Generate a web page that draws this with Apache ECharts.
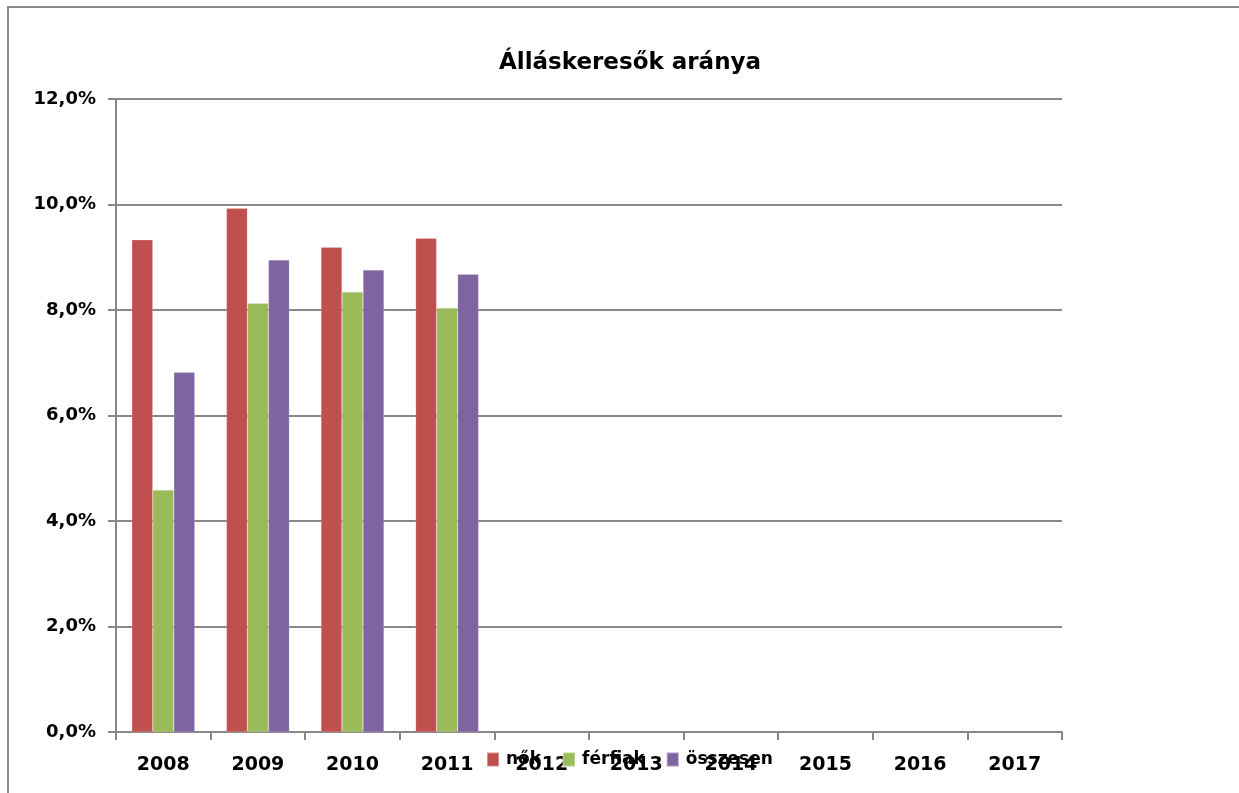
<!DOCTYPE html>
<html>
<head>
<meta charset="utf-8">
<script src="https://cdn.jsdelivr.net/npm/echarts@6/dist/echarts.min.js"></script>
<style>
  html, body { margin: 0; padding: 0; background: #fff; overflow: hidden; }
  #chart { width: 1239px; height: 793px; }
</style>
</head>
<body>
<div id="chart"></div>
<script>
// Years on the x axis (only the first four have data)
var years = ['2008', '2009', '2010', '2011', '2012', '2013', '2014', '2015', '2016', '2017'];

// Share of job seekers, in percent
var nok = [9.33, 9.93, 9.19, 9.36];
var ferfiak = [4.59, 8.13, 8.34, 8.04];
var osszesen = [6.82, 8.95, 8.76, 8.68];

var seriesNames = ['nők', 'férfiak', 'összesen'];
var colors = ['#C0504D', '#9BBB59', '#8064A2'];

var font = '"DejaVu Sans", Verdana, sans-serif';

var chart = echarts.init(document.getElementById('chart'));

function bar(name, data) {
  return {
    name: name,
    type: 'bar',
    data: data,
    barWidth: 21,
    barGap: '0%',
    itemStyle: { borderColor: 'rgba(255,255,255,0.35)', borderWidth: 0.5 }
  };
}

chart.setOption({
  animation: false,
  color: colors,
  title: {
    text: 'Álláskeresők aránya',
    left: 625,
    textAlign: 'center',
    top: 47,
    textStyle: { fontFamily: font, fontWeight: 'bold', fontSize: 23, color: '#000' }
  },
  // outer chart frame, only the top and left edges show in the picture
  graphic: [{
    type: 'polyline',
    shape: { points: [[8, 1000], [8, 7], [1500, 7]] },
    style: { fill: 'none', stroke: '#8c8c8c', lineWidth: 2 },
    silent: true
  }],
  legend: {
    data: seriesNames,
    left: 486,
    top: 751,
    padding: 0,
    itemWidth: 12,
    itemHeight: 14,
    itemGap: 21,
    icon: 'rect',
    textStyle: { fontFamily: font, fontWeight: 'bold', fontSize: 17, color: '#000', padding: [0, 0, 0, 2] }
  },
  grid: { left: 116, right: 177, top: 99, bottom: 61 },
  xAxis: {
    type: 'category',
    data: years,
    axisLine: { lineStyle: { color: '#888', width: 2 } },
    axisTick: { show: true, length: 8, lineStyle: { color: '#888', width: 2 } },
    axisLabel: { margin: 24, fontFamily: font, fontWeight: 'bold', fontSize: 19, color: '#000' }
  },
  yAxis: {
    type: 'value',
    min: 0,
    max: 12,
    interval: 2,
    axisLine: { show: true, lineStyle: { color: '#888', width: 2 } },
    axisTick: { show: true, length: 8, lineStyle: { color: '#888', width: 2 } },
    splitLine: { lineStyle: { color: '#888', width: 2 } },
    axisLabel: {
      margin: 20,
      fontFamily: font,
      fontWeight: 'bold',
      fontSize: 18,
      color: '#000',
      formatter: function (v) { return v.toFixed(1).replace('.', ',') + '%'; }
    }
  },
  series: [
    bar(seriesNames[0], nok),
    bar(seriesNames[1], ferfiak),
    bar(seriesNames[2], osszesen)
  ]
});
</script>
</body>
</html>
